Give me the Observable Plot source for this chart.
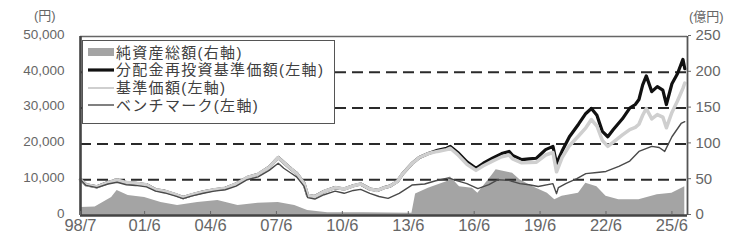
<!DOCTYPE html>
<html><head><meta charset="utf-8">
<script src="https://cdn.jsdelivr.net/npm/d3@7"></script>
<script src="https://cdn.jsdelivr.net/npm/@observablehq/plot@0.6"></script>
<style>
body{margin:0;background:#fff;}
#wrap{position:relative;width:736px;height:246px;overflow:hidden;font-family:"Liberation Sans","Noto Sans CJK JP",sans-serif;}
#wrap > svg{position:absolute;left:0;top:0;}
.unit{position:absolute;font-size:13px;color:#666;line-height:1;white-space:nowrap;}
#legend{position:absolute;left:82px;top:40px;width:253px;height:84px;border:1.5px solid #555;background:#fff;box-sizing:border-box;}
#legend .row{position:absolute;left:0;height:16px;display:flex;align-items:center;}
#legend .row svg{position:static;display:block;margin-left:5px;flex:none;}
#legend .row span{display:block;height:15px;overflow:visible;font-size:15px;letter-spacing:1.3px;color:#404040;margin-left:2px;line-height:15px;white-space:nowrap;}
</style></head><body><div id="wrap"></div>
<script>
// 分配金再投資基準価額（左軸, 円）
const reinvestDates = ["1998-07","1998-10","1999-04","1999-10","2000-03","2000-08","2001-01","2001-07","2001-12","2002-05","2002-11","2003-03","2003-08","2004-02","2004-08","2005-02","2005-08","2006-02","2006-08","2007-02","2007-07","2007-10","2008-02","2008-05","2008-09","2008-11","2009-03","2009-08","2010-02","2010-07","2010-12","2011-04","2011-09","2012-01","2012-05","2012-08","2012-12","2013-03","2013-08","2013-12","2014-05","2014-10","2015-03","2015-05","2015-09","2016-02","2016-07","2016-11","2017-04","2017-09","2018-01","2018-03","2018-08","2018-12","2019-04","2019-09","2020-01","2020-03","2020-06","2020-10","2021-03","2021-07","2021-10","2022-01","2022-04","2022-07","2022-10","2023-03","2023-07","2023-10","2023-12","2024-02","2024-04","2024-07","2024-10","2025-01","2025-03","2025-06","2025-09","2025-12","2026-01"];
const reinvestValues = [10000,8600,8000,9200,9900,9200,9000,8600,7200,6800,5800,5000,5800,6600,7200,7600,8800,10600,11500,13500,16200,14800,13000,11800,9000,5600,5300,6700,7800,7400,8300,8800,7400,7000,7800,8200,9500,11700,14500,16200,17300,18200,18800,19300,17600,15000,13200,14600,16000,17300,17900,16800,15600,15800,16000,18400,19300,14500,18000,22000,25500,28500,29900,28000,23500,22000,24000,27000,30000,31000,32400,36500,39000,34600,36000,35000,31000,36800,39600,43600,41000];

// 基準価額（左軸, 円）
const navDates = reinvestDates;
const navValues = [10000,8600,8000,9200,9900,9200,9000,8600,7200,6800,5800,5000,5800,6600,7200,7600,8800,10600,11500,13500,16200,14800,13000,11800,9000,5600,5300,6700,7800,7400,8300,8800,7400,7000,7800,8200,9500,11700,14500,16200,17300,17900,18400,18800,17000,14300,12600,13900,15200,16400,16900,15800,14700,14800,14900,16900,17600,12200,16200,19500,22200,24500,26800,25000,21000,19300,20500,22500,24000,24600,25500,28000,29900,27000,28200,27500,24500,28800,32000,35500,37000];

// ベンチマーク（左軸, 円）
const benchDates = ["1998-07","1998-10","1999-04","1999-10","2000-03","2000-08","2001-01","2001-07","2001-12","2002-05","2002-11","2003-03","2003-08","2004-02","2004-08","2005-02","2005-08","2006-02","2006-08","2007-02","2007-07","2007-10","2008-02","2008-05","2008-09","2008-11","2009-03","2009-08","2010-02","2010-07","2010-12","2011-04","2011-09","2012-02","2012-07","2013-01","2013-08","2014-03","2014-09","2015-04","2015-08","2016-02","2016-08","2017-02","2017-07","2018-01","2018-07","2018-12","2019-05","2020-01","2020-03","2020-04","2020-08","2021-02","2021-07","2022-01","2022-06","2023-01","2023-07","2023-12","2024-07","2024-11","2025-02","2025-06","2025-11","2026-01"];
const benchValues = [10000,8400,7800,8800,9300,8600,8400,8000,6800,6300,5400,4700,5500,6200,6800,7200,8200,10000,10800,12600,14600,13200,11800,10800,8200,5000,4600,5800,6800,6200,7000,7300,6200,5300,4800,6200,8500,8800,9700,10500,9800,8900,7500,8600,10000,9800,8900,8600,8100,8900,6100,7800,8900,10300,11700,12000,12300,13700,15200,17900,19300,19000,17900,22000,25700,26200];

// 純資産総額（右軸, 億円）
const assetDates = ["1998-07","1999-03","1999-12","2000-03","2000-09","2001-06","2002-03","2002-12","2003-11","2004-10","2005-09","2006-08","2007-07","2008-04","2008-11","2009-10","2011-06","2013-08","2013-10","2014-05","2015-03","2015-05","2015-10","2016-05","2016-08","2017-04","2017-06","2018-03","2018-07","2019-02","2019-10","2020-02","2020-06","2021-03","2021-07","2022-01","2022-06","2023-01","2023-12","2024-10","2025-06","2026-01"];
const assetValues = [11,12,25,35,28,25,18,14,18,21,14,17,18,14,7,4,4,3,30,38,47,54,40,38,31,57,64,59,50,40,31,22,27,31,45,40,27,22,22,29,31,40];

// axes
const xTickDates = ["1998-07","2001-06","2004-06","2007-06","2010-06","2013-06","2016-06","2019-06","2022-06","2025-06"];
const xTickLabels = ["98/7","01/6","04/6","07/6","10/6","13/6","16/6","19/6","22/6","25/6"];
const leftTicks = [0,10000,20000,30000,40000,50000];
const rightTicks = [0,50,100,150,200,250];
const xStart = "1998-07";

const parse = d3.utcParse("%Y-%m");
const rows = (ds, vs) => ds.map((d, i) => ({date: parse(d), value: vs[i]}));
const RATIO = 50000 / 250; // 円 per 億円 on the shared vertical scale

const reinvest = rows(reinvestDates, reinvestValues);
const nav = rows(navDates, navValues);
const bench = rows(benchDates, benchValues);
const assets = rows(assetDates, assetValues);
const labelOf = new Map(xTickDates.map((d, i) => [+parse(d), xTickLabels[i]]));
const x0 = parse(xStart), x1 = new Date(Date.UTC(2026, 1, 15));

const numFont = "'Liberation Sans',Arial,sans-serif";

const chart = Plot.plot({
  width: 736, height: 246,
  marginLeft: 80, marginRight: 49, marginTop: 36, marginBottom: 31,
  x: {type: "utc", domain: [x0, x1]},
  y: {domain: [0, 50000]},
  style: {fontFamily: numFont, background: "transparent", color: "#666", overflow: "visible"},
  marks: [
    Plot.areaY(assets, {x: "date", y: d => d.value * RATIO, fill: "#a4a4a4", curve: "linear"}),
    Plot.ruleY(leftTicks.filter(v => v > 0 && v < 50000), {stroke: "#2a2a2a", strokeWidth: 2, strokeDasharray: "11,6"}),
    Plot.lineY(reinvest, {x: "date", y: "value", stroke: "#111", strokeWidth: 3.2}),
    Plot.lineY(nav, {x: "date", y: "value", stroke: "#cfcfcf", strokeWidth: 3.5}),
    Plot.lineY(bench, {x: "date", y: "value", stroke: "#4a4a4a", strokeWidth: 1.4}),
    Plot.ruleY([50000], {stroke: "#666", strokeWidth: 1.5}),
    Plot.ruleX([x1], {stroke: "#555", strokeWidth: 1.8}),
    Plot.ruleX([x0], {stroke: "#444", strokeWidth: 2.6}),
    Plot.ruleY([0], {stroke: "#444", strokeWidth: 2.6}),
    Plot.axisY(leftTicks, {anchor: "left", tickSize: 0, tickPadding: 16, dy: -2, fontSize: 13.5, letterSpacing: "-0.6px", tickFormat: d3.format(","), label: null}),
    Plot.axisY(rightTicks.map(v => v * RATIO), {anchor: "right", tickSize: 3, tickPadding: 5, dy: -1, fontSize: 15, letterSpacing: "0.8px", tickFormat: d => String(d / RATIO), label: null}),
    Plot.axisX(xTickDates.map(parse), {anchor: "bottom", tickSize: -4, tickPadding: 8, fontSize: 16.5, letterSpacing: "0.6px", tickFormat: d => labelOf.get(+d), label: null})
  ]
});

const wrap = document.getElementById("wrap");
wrap.appendChild(chart);

function unit(text, left, top) {
  const el = document.createElement("div");
  el.className = "unit"; el.textContent = text;
  el.style.left = left + "px"; el.style.top = top + "px";
  wrap.appendChild(el);
}
unit("(円)", 34, 9);
unit("(億円)", 689, 10);

// legend
const legendItems = [
  {label: "純資産総額(右軸)", kind: "rect", color: "#a4a4a4", width: 0},
  {label: "分配金再投資基準価額(左軸)", kind: "line", color: "#111", width: 3.2},
  {label: "基準価額(左軸)", kind: "line", color: "#cfcfcf", width: 2},
  {label: "ベンチマーク(左軸)", kind: "line", color: "#4a4a4a", width: 1.4}
];
const legend = document.createElement("div");
legend.id = "legend";
legendItems.forEach((it, i) => {
  const row = document.createElement("div");
  row.className = "row";
  row.style.top = (3 + i * 17.8) + "px";
  const sw = d3.create("svg").attr("width", 26).attr("height", 16);
  if (it.kind === "rect") sw.append("rect").attr("x", 0).attr("y", 4).attr("width", 26).attr("height", 8).attr("fill", it.color);
  else sw.append("line").attr("x1", 0).attr("x2", 26).attr("y1", 8).attr("y2", 8).attr("stroke", it.color).attr("stroke-width", it.width);
  row.appendChild(sw.node());
  const t = document.createElement("span");
  t.textContent = it.label;
  row.appendChild(t);
  legend.appendChild(row);
});
wrap.appendChild(legend);
</script>
</body></html>
